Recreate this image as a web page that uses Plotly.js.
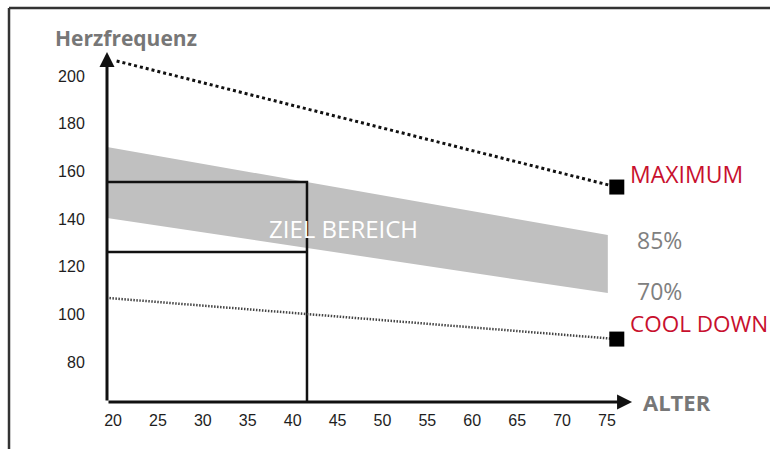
<!DOCTYPE html>
<html>
<head>
<meta charset="utf-8">
<script src="https://cdn.plot.ly/plotly-3.0.1.min.js"></script>
<style>html,body{margin:0;padding:0;background:#fff;}#chart{width:770px;height:449px;}</style>
</head>
<body>
<div id="chart"></div>
<script>
// Data
const bandAges = [19.33, 75.1];
const band85 = [170.2, 133.3];
const band70 = [140.4, 108.9];
const maxAges = [20.4, 76.1];
const maxRate = [206.3, 153.4];
const coolAges = [19.6, 76.1];
const coolRate = [106.8, 89.6];
const targetAge = 41.6;
const targetUpper = 155.5;
const targetLower = 126.1;
const xTicks = [20, 25, 30, 35, 40, 45, 50, 55, 60, 65, 70, 75];
const yTicks = [80, 100, 120, 140, 160, 180, 200];

const xMin = 19.33, xMax = 93.16, yMin = 63.2, yMax = 215.1;
const labelFont = "'Open Sans', Lato, sans-serif";
const tickFont = {family: 'Liberation Sans, Arial, sans-serif', size: 16, color: '#1e1e1e'};

const traces = [
  {x: bandAges, y: band70, mode: 'lines', line: {width: 0, color: 'rgba(0,0,0,0)'}, hoverinfo: 'skip', showlegend: false},
  {x: bandAges, y: band85, mode: 'lines', line: {width: 0, color: 'rgba(0,0,0,0)'}, fill: 'tonexty', fillcolor: '#c0c0c0', hoverinfo: 'skip', showlegend: false},
  {x: [xMin, targetAge, targetAge], y: [targetUpper, targetUpper, yMin], mode: 'lines', line: {color: '#111', width: 2.5}, showlegend: false},
  {x: [xMin, targetAge], y: [targetLower, targetLower], mode: 'lines', line: {color: '#111', width: 2.5}, showlegend: false},
  {x: maxAges, y: maxRate, mode: 'lines', line: {color: '#111', width: 3, dash: 'dot'}, showlegend: false},
  {x: [maxAges[1]], y: [maxRate[1]], mode: 'markers', marker: {symbol: 'square', size: 15, color: '#000'}, showlegend: false},
  {x: coolAges, y: coolRate, mode: 'lines', line: {color: '#444', width: 2.5, dash: '1.5px,1.5px'}, showlegend: false},
  {x: [coolAges[1]], y: [coolRate[1]], mode: 'markers', marker: {symbol: 'square', size: 15, color: '#000'}, showlegend: false}
];

const layout = {
  width: 770, height: 449,
  margin: {l: 107, r: 0, t: 40, b: 47},
  paper_bgcolor: '#fff', plot_bgcolor: '#fff',
  showlegend: false,
  xaxis: {range: [xMin, xMax], tickvals: xTicks, ticktext: xTicks.map(String), showgrid: false, zeroline: false, showline: false,
          ticks: 'outside', ticklen: 4, tickcolor: 'rgba(0,0,0,0)', tickfont: tickFont},
  yaxis: {range: [yMin, yMax], tickvals: yTicks, ticktext: yTicks.map(String), showgrid: false, zeroline: false, showline: false,
          ticks: 'outside', ticklen: 18, tickcolor: 'rgba(0,0,0,0)', tickfont: tickFont},
  shapes: [
    {type: 'line', xref: 'paper', yref: 'paper', x0: -0.1478, x1: -0.1478, y0: -0.2, y1: 1.0884, line: {color: '#333', width: 2.5}},
    {type: 'line', xref: 'paper', yref: 'paper', x0: -0.1478, x1: 1.02, y0: 1.0884, y1: 1.0884, line: {color: '#333', width: 2.5}}
  ],
  annotations: [
    {x: 77.8, y: yMin, ax: xMin, ay: yMin, xref: 'x', yref: 'y', axref: 'x', ayref: 'y', text: '', showarrow: true, arrowhead: 2, arrowsize: 1, arrowwidth: 3, arrowcolor: '#111', standoff: 0},
    {x: xMin, y: 210.1, ax: xMin, ay: yMin, xref: 'x', yref: 'y', axref: 'x', ayref: 'y', text: '', showarrow: true, arrowhead: 2, arrowsize: 1, arrowwidth: 3, arrowcolor: '#111', standoff: 0},
    {x: -0.082, y: 1.0055, xref: 'paper', yref: 'paper', xanchor: 'left', yanchor: 'middle', showarrow: false, text: '<b>Herzfrequenz</b>', font: {family: labelFont, size: 21, color: '#777'}},
    {x: 45.72, y: 136.2, xref: 'x', yref: 'y', xanchor: 'center', yanchor: 'middle', showarrow: false, text: 'ZIEL BEREICH', font: {family: labelFont, size: 24, color: '#fff'}},
    {x: 77.4, y: 158.9, xref: 'x', yref: 'y', xanchor: 'left', yanchor: 'middle', showarrow: false, text: 'MAXIMUM', font: {family: labelFont, size: 23, color: '#c8102e'}},
    {x: 78.1, y: 131.2, xref: 'x', yref: 'y', xanchor: 'left', yanchor: 'middle', showarrow: false, text: '85%', font: {family: labelFont, size: 23, color: '#808080'}},
    {x: 78.1, y: 109.8, xref: 'x', yref: 'y', xanchor: 'left', yanchor: 'middle', showarrow: false, text: '70%', font: {family: labelFont, size: 23, color: '#808080'}},
    {x: 77.4, y: 96.35, xref: 'x', yref: 'y', xanchor: 'left', yanchor: 'middle', showarrow: false, text: 'COOL DOWN', font: {family: labelFont, size: 22.5, color: '#c8102e'}},
    {x: 78.8, y: yMin, xref: 'x', yref: 'y', xanchor: 'left', yanchor: 'middle', showarrow: false, text: '<b>ALTER</b>', font: {family: labelFont, size: 22, color: '#777'}}
  ]
};

Plotly.newPlot('chart', traces, layout, {staticPlot: true, displayModeBar: false});
</script>
</body>
</html>
